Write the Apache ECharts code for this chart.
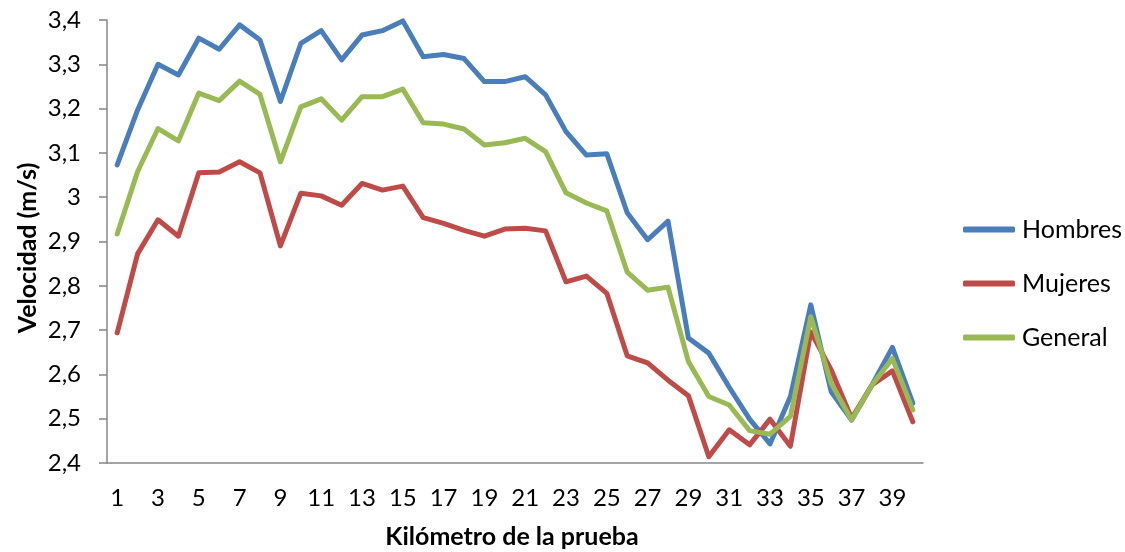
<!DOCTYPE html>
<html>
<head>
<meta charset="utf-8">
<script src="https://cdn.jsdelivr.net/npm/echarts@6/dist/echarts.min.js"></script>
<style>
  html, body { margin: 0; padding: 0; background: #fff; }
  #chart { width: 1125px; height: 552px; }
</style>
</head>
<body>
<div id="chart"></div>
<script>
// Kilometre of the race, 1..40
const kilometros = Array.from({ length: 40 }, (_, i) => String(i + 1));

// Average speed per kilometre (m/s)
const hombres = [3.073, 3.197, 3.300, 3.276, 3.359, 3.334, 3.389, 3.355, 3.216, 3.347,
                 3.376, 3.310, 3.366, 3.376, 3.398, 3.317, 3.322, 3.313, 3.261, 3.261,
                 3.272, 3.231, 3.148, 3.095, 3.098, 2.965, 2.904, 2.946, 2.682, 2.648,
                 2.571, 2.499, 2.443, 2.550, 2.757, 2.561, 2.497, 2.576, 2.661, 2.535];

const mujeres = [2.694, 2.872, 2.949, 2.912, 3.055, 3.057, 3.080, 3.055, 2.890, 3.009,
                 3.003, 2.982, 3.031, 3.016, 3.025, 2.954, 2.941, 2.925, 2.912, 2.928,
                 2.930, 2.924, 2.809, 2.822, 2.783, 2.642, 2.626, 2.587, 2.552, 2.414,
                 2.475, 2.441, 2.499, 2.438, 2.696, 2.610, 2.501, 2.576, 2.608, 2.493];

const general = [2.917, 3.058, 3.155, 3.127, 3.235, 3.218, 3.262, 3.232, 3.080, 3.204,
                 3.222, 3.174, 3.227, 3.227, 3.244, 3.168, 3.165, 3.154, 3.118, 3.123,
                 3.133, 3.103, 3.010, 2.987, 2.969, 2.831, 2.790, 2.797, 2.629, 2.550,
                 2.531, 2.473, 2.465, 2.505, 2.730, 2.580, 2.497, 2.576, 2.636, 2.520];

const seriesNames = ['Hombres', 'Mujeres', 'General'];
const seriesColors = ['#4a7ebb', '#be4b48', '#98b954'];

const yMin = 2.4, yMax = 3.4, yStep = 0.1;

const FONT = 'Lato, "Open Sans", sans-serif';
const axisGrey = '#868686';

const chart = echarts.init(document.getElementById('chart'), null, { renderer: 'canvas' });

function lineSeries(name, data, color) {
  return {
    name: name,
    type: 'line',
    data: data,
    symbol: 'none',
    smooth: false,
    color: color,
    lineStyle: { width: 5, color: color, cap: 'round', join: 'round' },
    emphasis: { disabled: true },
    animation: false
  };
}

chart.setOption({
  backgroundColor: '#fff',
  animation: false,
  grid: { left: 107, right: 202, top: 20, bottom: 89, containLabel: false },
  legend: {
    orient: 'vertical',
    left: 958,
    top: 212,
    itemWidth: 52,
    itemHeight: 6,
    itemGap: 29,
    icon: 'roundRect',
    data: seriesNames,
    textStyle: { fontFamily: FONT, fontSize: 25, color: '#000', lineHeight: 24, padding: [0, 0, 0, 2] }
  },
  xAxis: {
    type: 'category',
    data: kilometros,
    boundaryGap: true,
    axisLine: { show: true, lineStyle: { color: axisGrey, width: 1.5 } },
    axisTick: { show: false },
    axisLabel: { interval: 1, margin: 23, fontFamily: FONT, fontSize: 24, color: '#000' },
    splitLine: { show: false }
  },
  yAxis: {
    type: 'value',
    min: yMin,
    max: yMax,
    interval: yStep,
    axisLine: { show: true, lineStyle: { color: axisGrey, width: 1.5 } },
    axisTick: { show: true, inside: false, length: 8, lineStyle: { color: axisGrey, width: 1.5 } },
    axisLabel: {
      margin: 26,
      fontFamily: FONT,
      fontSize: 24,
      color: '#000',
      formatter: v => String(Number(v.toFixed(1))).replace('.', ',')
    },
    splitLine: { show: false }
  },
  graphic: [
    {
      type: 'text',
      x: 28, y: 248,
      rotation: Math.PI / 2,
      style: {
        text: 'Velocidad (m/s)',
        fontFamily: FONT, fontSize: 25, fontWeight: 'bold', fill: '#000',
        align: 'center', verticalAlign: 'middle'
      }
    },
    {
      type: 'text',
      x: 512, y: 537,
      style: {
        text: 'Kilómetro de la prueba',
        fontFamily: FONT, fontSize: 25, fontWeight: 'bold', fill: '#000',
        align: 'center', verticalAlign: 'middle'
      }
    }
  ],
  series: [
    lineSeries(seriesNames[0], hombres, seriesColors[0]),
    lineSeries(seriesNames[1], mujeres, seriesColors[1]),
    lineSeries(seriesNames[2], general, seriesColors[2])
  ]
});
</script>
</body>
</html>
